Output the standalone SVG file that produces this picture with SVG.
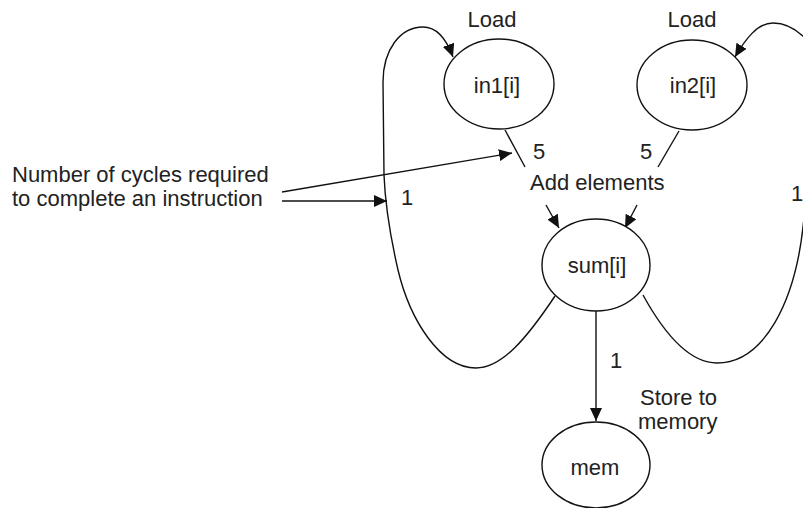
<svg xmlns="http://www.w3.org/2000/svg" width="803" height="508" viewBox="0 0 803 508">
  <style>
    .node { fill: #ffffff; stroke: #111111; stroke-width: 1.4; }
    .edge { fill: none; stroke: #111111; stroke-width: 1.4; }
    .lbl { font-family: "Liberation Sans", Arial, sans-serif; font-size: 22px; fill: #222222; }
    .mid { text-anchor: middle; }
  </style>
  <defs>
    <marker id="arrow" markerUnits="userSpaceOnUse" markerWidth="14" markerHeight="12" refX="13" refY="6" orient="auto">
      <path d="M0,0 L13,6 L0,12 z" fill="#111111"/>
    </marker>
  </defs>
  <rect width="803" height="508" fill="#ffffff"/>

  <g id="connectors">
    <!-- in1 -> sum -->
    <line class="edge" x1="505" y1="130" x2="525" y2="167"/>
    <line class="edge" x1="546" y1="205" x2="559" y2="228" marker-end="url(#arrow)"/>
    <!-- in2 -> sum -->
    <line class="edge" x1="679" y1="131" x2="658" y2="167"/>
    <line class="edge" x1="637" y1="205" x2="625" y2="228" marker-end="url(#arrow)"/>
    <!-- sum -> mem -->
    <line class="edge" x1="596" y1="311" x2="596" y2="421" marker-end="url(#arrow)"/>
    <!-- loop back to in1 -->
    <path class="edge" d="M555,296 C527,338 502,368 476,368 C440,368 410,320 398,270 C390,235 385,200 384,175 L383,82 C383,50 400,27 423,27 C436,27 446,38 453,57" marker-end="url(#arrow)"/>
    <!-- loop back to in2 (runs past the right edge) -->
    <path class="edge" d="M643,295 C665,335 690,363 717,363 C765,363 795,300 803,227 C812,150 830,60 805,38 C795,28 785,23 773,23 C757,23 745,40 735,57" marker-end="url(#arrow)"/>
    <!-- annotation pointers -->
    <line class="edge" x1="282" y1="192" x2="512" y2="153" marker-end="url(#arrow)"/>
    <line class="edge" x1="282" y1="201" x2="387" y2="201" marker-end="url(#arrow)"/>
  </g>

  <g id="node-in1">
    <ellipse class="node" cx="499" cy="84" rx="55" ry="45"/>
    <text class="lbl mid" x="497" y="93">in1[i]</text>
    <text class="lbl mid" x="492" y="27">Load</text>
  </g>
  <g id="node-in2">
    <ellipse class="node" cx="692" cy="85" rx="55" ry="45"/>
    <text class="lbl mid" x="693" y="93">in2[i]</text>
    <text class="lbl mid" x="692" y="27">Load</text>
  </g>
  <g id="node-sum">
    <ellipse class="node" cx="596" cy="265" rx="54" ry="46"/>
    <text class="lbl mid" x="597" y="273">sum[i]</text>
  </g>
  <g id="node-mem">
    <ellipse class="node" cx="596" cy="465" rx="54" ry="43"/>
    <text class="lbl mid" x="595" y="475">mem</text>
  </g>

  <g id="labels">
    <text class="lbl" x="530" y="190">Add elements</text>
    <text class="lbl mid" x="539" y="159">5</text>
    <text class="lbl mid" x="646" y="159">5</text>
    <text class="lbl mid" x="407" y="205">1</text>
    <text class="lbl" x="791" y="201">1</text>
    <text class="lbl mid" x="616" y="368">1</text>
    <text class="lbl" x="640" y="405">Store to</text>
    <text class="lbl" x="638" y="429">memory</text>
    <text class="lbl" x="12" y="182">Number of cycles required</text>
    <text class="lbl" x="12" y="206">to complete an instruction</text>
  </g>
</svg>
